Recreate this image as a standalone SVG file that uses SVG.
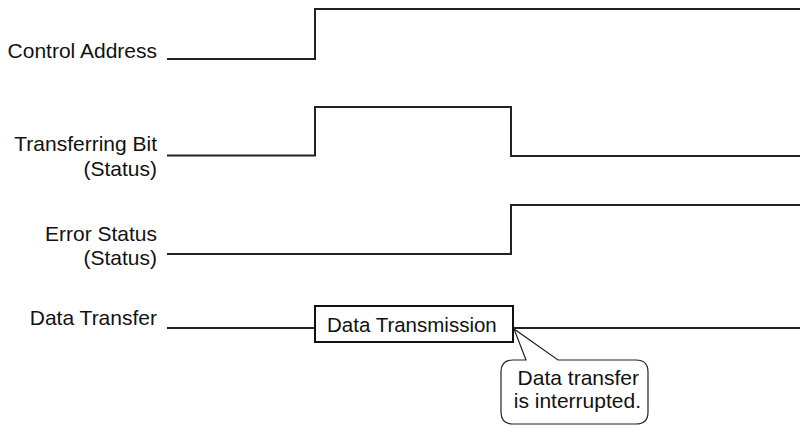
<svg xmlns="http://www.w3.org/2000/svg" width="800" height="425" viewBox="0 0 800 425">
<style>
.lbl{font-family:"Liberation Sans",Arial,sans-serif;font-size:21px;fill:#111;text-anchor:end}
.sig{fill:none;stroke:#222;stroke-width:2}
.box{fill:#fff;stroke:#111;stroke-width:2}
.call{fill:#fff;stroke:#222;stroke-width:1.2}
</style>
<rect width="800" height="425" fill="#fff"/>
<g id="labels">
<g id="lbl-control"><text class="lbl" x="157" y="58">Control Address</text></g>
<g id="lbl-transferring"><text class="lbl" x="157" y="151">Transferring Bit</text><text class="lbl" x="157" y="176">(Status)</text></g>
<g id="lbl-error"><text class="lbl" x="157" y="241">Error Status</text><text class="lbl" x="157" y="265">(Status)</text></g>
<g id="lbl-data"><text class="lbl" x="157" y="325">Data Transfer</text></g>
</g>
<g id="connectors">
<path class="sig" d="M167 59 H315 V9 H800"/>
<path class="sig" d="M167 155.5 H315 V107 H511 V156 H800"/>
<path class="sig" d="M167 254 H511 V205 H800"/>
<path class="sig" d="M167 328 H315 M513 328 H800"/>
</g>
<g id="data-transmission">
<rect class="box" x="315" y="306" width="198" height="36"/>
<text x="327" y="332" style="font-family:'Liberation Sans',Arial,sans-serif;font-size:20.5px;fill:#111">Data Transmission</text>
</g>
<g id="callout">
<path class="call" d="M526 360 L514 329 L558 360 H636 Q648 360 648 372 V412 Q648 424 636 424 H513 Q501 424 501 412 V372 Q501 360 513 360 Z"/>
<text class="lbl" x="639" y="385">Data transfer</text>
<text class="lbl" x="641" y="408">is interrupted.</text>
</g>
</svg>
